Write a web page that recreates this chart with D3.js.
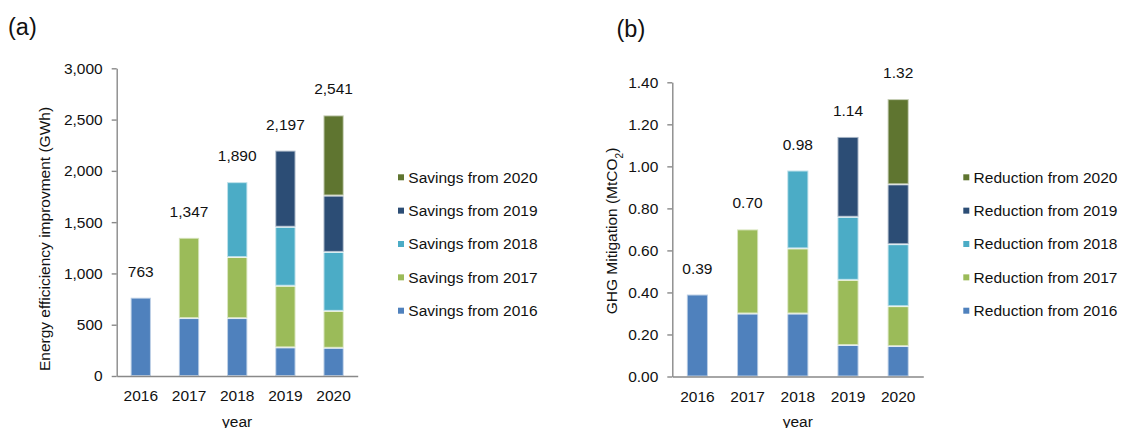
<!DOCTYPE html>
<html>
<head>
<meta charset="utf-8">
<script src="https://cdn.jsdelivr.net/npm/d3@7"></script>
<style>
  html, body { margin: 0; padding: 0; background: #fff; }
  svg { display: block; font-family: "Liberation Sans", Arial, sans-serif; }
</style>
</head>
<body>
<svg id="chart" width="1122" height="428"></svg>
<script>
// ---------- DATA ----------
const years = ["2016", "2017", "2018", "2019", "2020"];

// (a) Energy efficiency improvement (GWh)
const savingsFrom2016 = [763, 565, 565, 280, 275];
const savingsFrom2017 = [0, 782, 595, 600, 360];
const savingsFrom2018 = [0, 0, 730, 575, 575];
const savingsFrom2019 = [0, 0, 0, 742, 550];
const savingsFrom2020 = [0, 0, 0, 0, 781];
const savingsTotals = [763, 1347, 1890, 2197, 2541];
const savingsNames = ["Savings from 2016", "Savings from 2017", "Savings from 2018", "Savings from 2019", "Savings from 2020"];
const savingsTicks = [0, 500, 1000, 1500, 2000, 2500, 3000];

// (b) GHG Mitigation (MtCO2)
const reductionFrom2016 = [0.39, 0.30, 0.30, 0.15, 0.145];
const reductionFrom2017 = [0, 0.40, 0.31, 0.31, 0.19];
const reductionFrom2018 = [0, 0, 0.37, 0.30, 0.295];
const reductionFrom2019 = [0, 0, 0, 0.38, 0.285];
const reductionFrom2020 = [0, 0, 0, 0, 0.405];
const reductionTotals = [0.39, 0.70, 0.98, 1.14, 1.32];
const reductionNames = ["Reduction from 2016", "Reduction from 2017", "Reduction from 2018", "Reduction from 2019", "Reduction from 2020"];
const reductionTicks = [0, 0.2, 0.4, 0.6, 0.8, 1.0, 1.2, 1.4];

const seriesColors = ["#4F81BD", "#9BBB59", "#4BACC6", "#2C4D75", "#5F7530"];

// ---------- DRAW ----------
const svg = d3.select("#chart");
const FONT = 15.5;
const AXIS_COLOR = "#898989";

function drawPanel(cfg) {
  const g = svg.append("g");
  const series = cfg.series;
  const rows = years.map((yr, i) => {
    const r = { year: yr };
    series.forEach((s, k) => { r["s" + k] = s[i]; });
    return r;
  });
  const keys = series.map((s, k) => "s" + k);
  const stacked = d3.stack().keys(keys)(rows);

  const x = d3.scaleBand().domain(years).range(cfg.xRange)
    .paddingInner(0.58).paddingOuter(0.29);
  const y = d3.scaleLinear().domain(cfg.yDomain).range(cfg.yRange);

  // bars
  stacked.forEach((layer, k) => {
    g.append("g").selectAll("rect")
      .data(layer.filter(d => d[1] - d[0] > 0))
      .join("rect")
      .attr("x", d => x(d.data.year))
      .attr("width", x.bandwidth())
      .attr("y", d => y(d[1]))
      .attr("height", d => y(d[0]) - y(d[1]))
      .attr("fill", seriesColors[k])
      .attr("stroke", "#fff")
      .attr("stroke-opacity", 0.6)
      .attr("stroke-width", 2);
  });

  // y axis
  const yAxis = g.append("g")
    .attr("transform", `translate(${cfg.xRange[0]},0)`)
    .call(d3.axisLeft(y).tickValues(cfg.ticks).tickFormat(cfg.fmt)
      .tickSize(5).tickSizeOuter(0).tickPadding(9));
  yAxis.select(".domain").attr("stroke", AXIS_COLOR).attr("stroke-width", 1.4);
  yAxis.selectAll(".tick line").attr("stroke", AXIS_COLOR).attr("stroke-width", 1.4);
  yAxis.selectAll(".tick text").attr("fill", "#111").style("font-size", FONT + "px")
    .style("font-family", "'Liberation Sans', Arial, sans-serif");

  // x axis
  const xAxis = g.append("g")
    .attr("transform", `translate(0,${y(0)})`)
    .call(d3.axisBottom(x).tickSize(0).tickSizeOuter(0).tickPadding(14));
  xAxis.select(".domain").attr("stroke", AXIS_COLOR).attr("stroke-width", 1.4);
  xAxis.selectAll(".tick text").attr("fill", "#111").style("font-size", FONT + "px")
    .style("font-family", "'Liberation Sans', Arial, sans-serif");

  // totals
  g.append("g").selectAll("text")
    .data(years.map((yr, i) => ({ year: yr, v: cfg.totals[i] })))
    .join("text")
    .attr("x", d => x(d.year) + x.bandwidth() / 2)
    .attr("y", d => y(d.v) - 21)
    .attr("text-anchor", "middle")
    .attr("fill", "#111")
    .style("font-size", FONT + "px")
    .text(d => cfg.totalFmt(d.v));

  // x title
  g.append("text")
    .attr("x", (cfg.xRange[0] + cfg.xRange[1]) / 2)
    .attr("y", 426.5)
    .attr("text-anchor", "middle")
    .attr("fill", "#111")
    .style("font-size", FONT + "px")
    .text("year");

  // y title
  const yt = g.append("text")
    .attr("transform", `translate(${cfg.yTitleX},${cfg.yTitleY}) rotate(-90)`)
    .attr("text-anchor", "middle")
    .attr("fill", "#111")
    .style("font-size", FONT + "px");
  cfg.yTitle(yt);

  // panel label
  g.append("text")
    .attr("x", cfg.panelX).attr("y", cfg.panelY)
    .attr("fill", "#111")
    .style("font-size", "23.5px")
    .text(cfg.panel);

  // legend (reverse order, top = latest)
  const legendRows = cfg.names.map((n, k) => ({ n, c: seriesColors[k] })).reverse();
  const leg = g.append("g");
  legendRows.forEach((d, i) => {
    const cy = 177.3 + i * 33.35;
    leg.append("rect")
      .attr("x", cfg.legendX).attr("y", cy - 3)
      .attr("width", 6).attr("height", 6)
      .attr("fill", d.c);
    leg.append("text")
      .attr("x", cfg.legendX + 10.3).attr("y", cy)
      .attr("dy", "0.35em")
      .attr("fill", "#111")
      .style("font-size", FONT + "px")
      .text(d.n);
  });
}

drawPanel({
  series: [savingsFrom2016, savingsFrom2017, savingsFrom2018, savingsFrom2019, savingsFrom2020],
  totals: savingsTotals,
  names: savingsNames,
  ticks: savingsTicks,
  fmt: d3.format(","),
  totalFmt: d3.format(","),
  xRange: [116.7, 357.7],
  yDomain: [0, 3000],
  yRange: [376, 68.3],
  yTitleX: 49.5, yTitleY: 239,
  yTitle: t => t.text("Energy efficiciency improvment (GWh)"),
  panel: "(a)", panelX: 8, panelY: 34.5,
  legendX: 398
});

drawPanel({
  series: [reductionFrom2016, reductionFrom2017, reductionFrom2018, reductionFrom2019, reductionFrom2020],
  totals: reductionTotals,
  names: reductionNames,
  ticks: reductionTicks,
  fmt: d3.format(".2f"),
  totalFmt: d3.format(".2f"),
  xRange: [672.3, 923.3],
  yDomain: [0, 1.4],
  yRange: [376.5, 82.3],
  yTitleX: 616.7, yTitleY: 231,
  yTitle: t => {
    t.append("tspan").text("GHG Mitigation (MtCO");
    t.append("tspan").attr("baseline-shift", "sub").style("font-size", "10px").text("2");
    t.append("tspan").text(")");
  },
  panel: "(b)", panelX: 616.5, panelY: 37,
  legendX: 963.3
});
</script>
</body>
</html>
